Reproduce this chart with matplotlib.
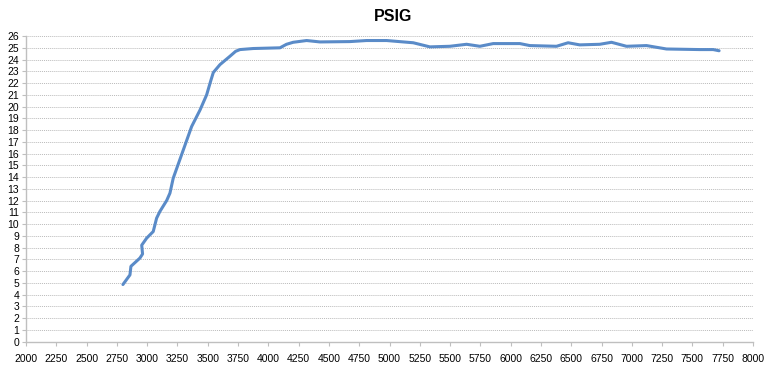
import matplotlib
matplotlib.use("Agg")
import matplotlib.pyplot as plt

plt.rcParams['font.family'] = ['Liberation Sans', 'DejaVu Sans']

# values
rpm = [2800, 2858, 2866, 2940, 2962, 2955, 2996, 3050, 3078, 3105, 3161,
       3188, 3215, 3298, 3367, 3436, 3491, 3525, 3546, 3601, 3683, 3730,
       3766, 3875,
       4096, 4150, 4205, 4316, 4426, 4673, 4811, 4976, 5196, 5333, 5498, 5636,
       5746, 5856, 6076, 6158, 6378, 6474, 6570, 6735, 6832, 6956, 7121,
       7286, 7561, 7671, 7720]
psig = [4.85, 5.67, 6.4, 7.1, 7.45, 8.2, 8.8, 9.36, 10.5, 11.07, 12.0,
        12.63, 13.9, 16.3, 18.3, 19.7, 21.0, 22.2, 22.9, 23.57, 24.28, 24.7,
        24.85, 24.94,
        25.0, 25.3, 25.47, 25.62, 25.5, 25.53, 25.62, 25.62, 25.43, 25.08, 25.13, 25.3,
        25.13, 25.36, 25.36, 25.19, 25.13, 25.43, 25.25, 25.3, 25.47, 25.13, 25.19,
        24.9, 24.85, 24.85, 24.75]

xticks = list(range(2000, 8001, 250))
yticks = list(range(0, 27))

fig = plt.figure(figsize=(7.83, 3.68), dpi=100)
ax = fig.add_axes([0.0332, 0.072, 0.9285, 0.83])

ax.plot(rpm, psig, color='#5A8BC8', lw=2.2, solid_capstyle='round',
        solid_joinstyle='round')

ax.set_xlim(2000, 8000)
ax.set_ylim(0, 26)
ax.set_xticks(xticks)
ax.set_yticks(yticks)
ax.tick_params(labelsize=7.5, length=3, width=0.8, color='#BFBFBF', pad=2)
ax.tick_params(axis='x', pad=6)

ax.yaxis.grid(True, color='#BBBBBB', linestyle=(0, (1, 1)), lw=0.7)
ax.set_axisbelow(True)
for s in ['top', 'right']:
    ax.spines[s].set_visible(False)
for s in ['left', 'bottom']:
    ax.spines[s].set_color('#BFBFBF')
    ax.spines[s].set_linewidth(1.0)

fig.text(0.502, 0.955, 'PSIG', ha='center', va='center',
         fontsize=11.5, fontweight='bold')

fig.savefig('out.png', dpi=100)
